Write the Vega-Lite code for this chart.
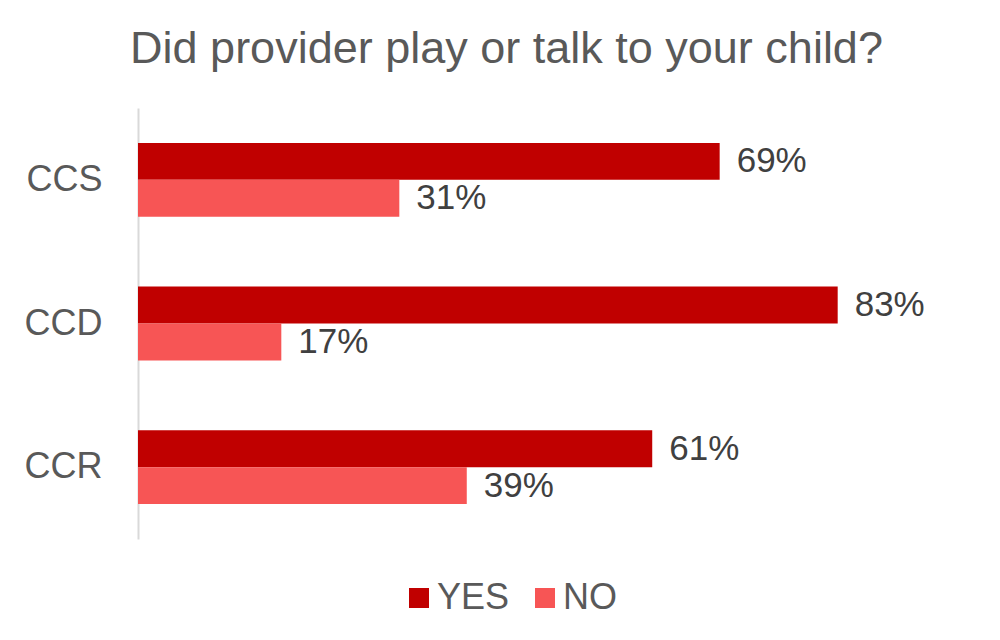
{
  "$schema": "https://vega.github.io/schema/vega-lite/v6.json",
  "autosize": "none",
  "width": 843,
  "height": 431,
  "padding": {"left": 138, "top": 108, "right": 19, "bottom": 101},
  "background": "white",
  "config": {"view": {"stroke": null}, "font": "Liberation Sans"},
  "title": {
    "text": "Did provider play or talk to your child?",
    "fontSize": 45,
    "font": "Liberation Sans",
    "fontWeight": "normal",
    "color": "#595959",
    "anchor": "middle",
    "dx": -53,
    "baseline": "bottom",
    "offset": -9
  },
  "data": {
    "values": [
      {"cat": "CCS", "resp": "YES", "v": 0.69},
      {"cat": "CCS", "resp": "NO", "v": 0.31},
      {"cat": "CCD", "resp": "YES", "v": 0.83},
      {"cat": "CCD", "resp": "NO", "v": 0.17},
      {"cat": "CCR", "resp": "YES", "v": 0.61},
      {"cat": "CCR", "resp": "NO", "v": 0.39}
    ]
  },
  "encoding": {
    "y": {
      "field": "cat",
      "type": "nominal",
      "sort": ["CCS", "CCD", "CCR"],
      "scale": {"paddingInner": 0.486, "paddingOuter": 0.243},
      "axis": {
        "title": null,
        "ticks": false,
        "labelFontSize": 36,
        "labelColor": "#595959",
        "labelPadding": 36,
        "domainColor": "#d9d9d9",
        "domainWidth": 2
      }
    },
    "yOffset": {"field": "resp", "type": "nominal", "sort": ["YES", "NO"]},
    "x": {
      "field": "v",
      "type": "quantitative",
      "scale": {"domain": [0, 1]},
      "axis": null
    }
  },
  "layer": [
    {
      "mark": {"type": "bar"},
      "encoding": {
        "color": {
          "field": "resp",
          "type": "nominal",
          "sort": ["YES", "NO"],
          "scale": {"domain": ["YES", "NO"], "range": ["#C00000", "#F75555"]},
          "legend": {
            "title": null,
            "orient": "none",
            "direction": "horizontal",
            "legendX": 263,
            "legendY": 472,
            "symbolType": "square",
            "symbolSize": 400,
            "symbolStrokeWidth": 0,
            "labelFontSize": 36,
            "labelColor": "#595959",
            "labelOffset": 0,
            "columnPadding": 17
          }
        }
      }
    },
    {
      "mark": {"type": "text", "align": "left", "baseline": "middle", "dx": 17, "fontSize": 35, "color": "#404040"},
      "encoding": {
        "text": {"field": "v", "type": "quantitative", "format": ".0%"}
      }
    }
  ]
}
